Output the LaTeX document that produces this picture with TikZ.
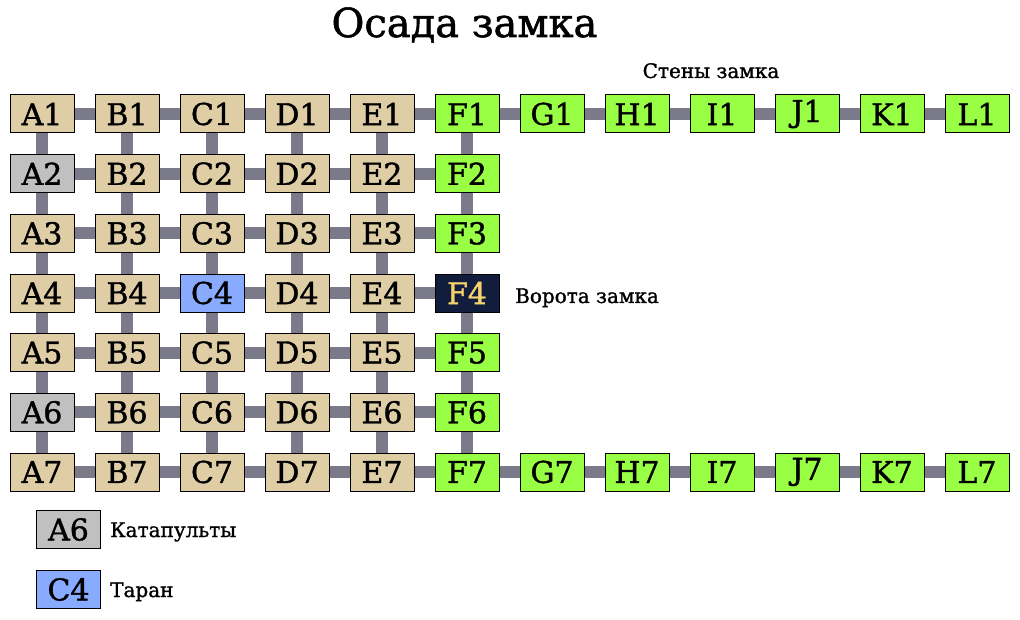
\documentclass[tikz,border=0pt]{standalone}
\usepackage{fontspec}
\setmainfont{DejaVu Serif}[BoldFont=DejaVu Serif, BoldFeatures={FakeBold=1.3}]
\usetikzlibrary{backgrounds}
\definecolor{tanc}{RGB}{222,205,165}
\definecolor{greenc}{RGB}{153,255,68}
\definecolor{grayc}{RGB}{192,192,192}
\definecolor{bluec}{RGB}{136,170,255}
\definecolor{navyc}{RGB}{18,28,60}
\definecolor{goldc}{RGB}{245,212,110}
\definecolor{linkc}{RGB}{122,122,138}
\pgfkeyssetvalue{/cellfill/A2}{grayc}
\pgfkeyssetvalue{/cellfill/A6}{grayc}
\pgfkeyssetvalue{/cellfill/C4}{bluec}
\pgfkeyssetvalue{/cellfill/F4}{navyc}
\pgfkeyssetvalue{/celltext/F4}{goldc}
\begin{document}
\begin{tikzpicture}[x=1pt,y=-1pt,
  cell/.style={draw=black, line width=1pt, minimum width=64pt, minimum height=38pt,
    inner sep=0pt, font=\fontsize{30}{30}\selectfont\bfseries},
  link/.style={draw=linkc, line width=12pt},
  lbl/.style={font=\fontsize{20}{20}\selectfont\bfseries, inner sep=0pt}]
\begin{pgfonlayer}{background}
\fill[white] (0,0) rectangle (1020,620);
\end{pgfonlayer}
\useasboundingbox (0,0) rectangle (1020,620);
% title
\node[inner sep=0pt, anchor=base, font=\fontsize{40}{40}\selectfont\bfseries] (title) at (464.5,37) {Осада замка};
\node[lbl, anchor=base] (walls) at (711,78) {Стены замка};
% main grid
\foreach \c/\i/\fc in {A/0/tanc,B/1/tanc,C/2/tanc,D/3/tanc,E/4/tanc,F/5/greenc}{
  \foreach \r in {1,...,7}{
    \edef\key{\c\r}
    \pgfkeysifdefined{/cellfill/\key}{\pgfkeysgetvalue{/cellfill/\key}\fillc}{\edef\fillc{\fc}}
    \pgfkeysifdefined{/celltext/\key}{\pgfkeysgetvalue{/celltext/\key}\textc}{\def\textc{black}}
    \node[cell, fill=\fillc, text=\textc] (\c\r) at ({42+85*\i},{114+59.667*(\r-1)}) {\c\r};
  }
}
\foreach \c/\i in {G/6,H/7,I/8,J/9,K/10,L/11}{
  \foreach \r in {1,7}{
    \node[cell, fill=greenc] (\c\r) at ({42+85*\i},{114+59.667*(\r-1)}) {\c\r};
  }
}
% connectors
\begin{pgfonlayer}{background}
\foreach \c/\d in {A/B,B/C,C/D,D/E,E/F}{
  \foreach \r in {1,...,7}{\draw[link] (\c\r) -- (\d\r);}
}
\foreach \c/\d in {F/G,G/H,H/I,I/J,J/K,K/L}{
  \foreach \r in {1,7}{\draw[link] (\c\r) -- (\d\r);}
}
\foreach \c in {A,B,C,D,E,F}{
  \foreach \r/\s in {1/2,2/3,3/4,4/5,5/6,6/7}{\draw[link] (\c\r) -- (\c\s);}
}
\end{pgfonlayer}
\node[lbl, anchor=base west] (gate) at (515,303) {Ворота замка};
% legend
\node[cell, fill=grayc] (legA) at (68.5,529.5) {A6};
\node[lbl, anchor=base west] (legAt) at (110,537) {Катапульты};
\node[cell, fill=bluec] (legC) at (68.5,589.5) {C4};
\node[lbl, anchor=base west] (legCt) at (110,597) {Таран};
\end{tikzpicture}
\end{document}
